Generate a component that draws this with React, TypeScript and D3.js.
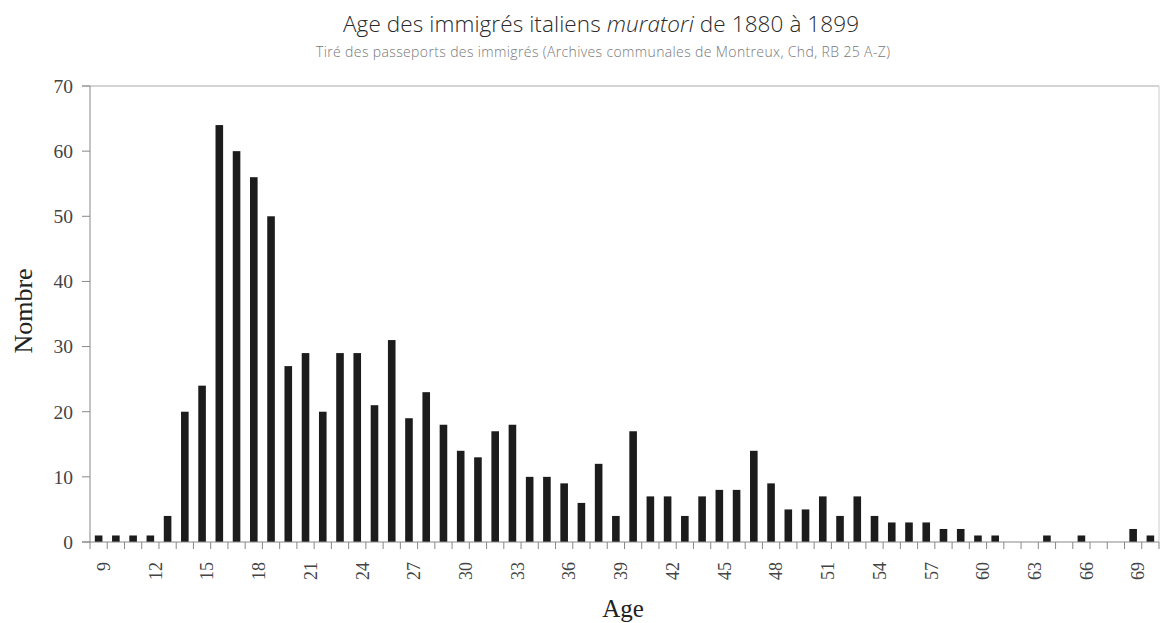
import React from 'react';
import * as d3 from 'd3';

// Ages 9..70 and the number of immigrants for each age
const ages: number[] = d3.range(9, 71);
const counts: number[] = [
  1, 1, 1, 1, 4, 20, 24, 64, 60, 56, 50, 27, 29, 20, 29, 29, 21, 31, 19, 23,
  18, 14, 13, 17, 18, 10, 10, 9, 6, 12, 4, 17, 7, 7, 4, 7, 8, 8, 14, 9,
  5, 5, 7, 4, 7, 4, 3, 3, 3, 2, 2, 1, 1, 0, 0, 1, 0, 1, 0, 0, 2, 1,
];
const yTicks: number[] = [0, 10, 20, 30, 40, 50, 60, 70];
const xLabels: number[] = [9, 12, 15, 18, 21, 24, 27, 30, 33, 36, 39, 42, 45, 48, 51, 54, 57, 60, 63, 66, 69];

const width = 1160;
const height = 623;
const margin = { top: 86, right: 1, bottom: 81, left: 90 };

const serif = '"Liberation Serif", "DejaVu Serif", serif';
const sans = '"Open Sans", "Liberation Sans", sans-serif';

export default function App() {
  const x = d3
    .scaleBand<number>()
    .domain(ages)
    .range([margin.left, width - margin.right])
    .padding(0);
  const y = d3
    .scaleLinear()
    .domain([0, 70])
    .range([height - margin.bottom, margin.top]);

  const bw = x.bandwidth();
  const barW = 7.6;
  const y0 = y(0);
  const boundaries = d3.range(0, ages.length + 1).map((i) => margin.left + i * bw);

  return (
    <svg
      width={width}
      height={height}
      style={{ position: 'absolute', left: 0, top: 0, background: '#fff' }}
    >
      {/* title */}
      <text
        x={343}
        y={32}
        fontFamily={sans}
        fontWeight={300}
        fontSize={22.5}
        fill="#2a2a2a"
        textLength={516}
        lengthAdjust="spacing"
      >
        Age des immigrés italiens <tspan fontStyle="italic">muratori</tspan> de 1880 à 1899
      </text>
      <text
        x={316}
        y={57}
        fontFamily={sans}
        fontWeight={300}
        fontSize={14}
        fill="#777"
        textLength={574}
        lengthAdjust="spacing"
      >
        Tiré des passeports des immigrés (Archives communales de Montreux, Chd, RB 25 A-Z)
      </text>

      {/* frame */}
      <line x1={margin.left - 8} x2={width - margin.right} y1={y(70)} y2={y(70)} stroke="#aaa" strokeWidth={1} />
      <line x1={width - margin.right} x2={width - margin.right} y1={y(70)} y2={y0} stroke="#ccc" strokeWidth={1} />

      {/* y axis */}
      <line x1={margin.left} x2={margin.left} y1={y(70)} y2={y0} stroke="#888" strokeWidth={1} />
      {yTicks.map((t) => (
        <g key={t}>
          <line x1={margin.left - 8} x2={margin.left} y1={y(t)} y2={y(t)} stroke="#888" />
          <text
            x={73}
            y={y(t)}
            dy="0.35em"
            textAnchor="end"
            fontFamily={serif}
            fontSize={19.5}
            fill="#444"
          >
            {t}
          </text>
        </g>
      ))}
      <text
        transform={`translate(32, 311) rotate(-90)`}
        textAnchor="middle"
        fontFamily={serif}
        fontSize={26}
        fill="#222"
      >
        Nombre
      </text>

      {/* bars */}
      {ages.map((a, i) =>
        counts[i] > 0 ? (
          <rect
            key={a}
            x={(x(a) as number) + (bw - barW) / 2}
            y={y(counts[i])}
            width={barW}
            height={y0 - y(counts[i])}
            fill="#1c1c1c"
          />
        ) : null
      )}

      {/* x axis */}
      <line x1={margin.left - 8} x2={width - margin.right} y1={y0} y2={y0} stroke="#888" strokeWidth={1} />
      {boundaries.map((bx, i) => (
        <line key={i} x1={bx} x2={bx} y1={y0} y2={y0 + 7} stroke="#888" />
      ))}
      {xLabels.map((a) => (
        <text
          key={a}
          transform={`translate(${(x(a) as number) + bw / 2 + 5}, ${y0 + 20}) rotate(-90)`}
          dy="0.35em"
          textAnchor="end"
          fontFamily={serif}
          fontSize={18}
          fill="#444"
        >
          {a}
        </text>
      ))}
      <text x={623} y={617} textAnchor="middle" fontFamily={serif} fontSize={25} fill="#222">
        Age
      </text>
    </svg>
  );
}
